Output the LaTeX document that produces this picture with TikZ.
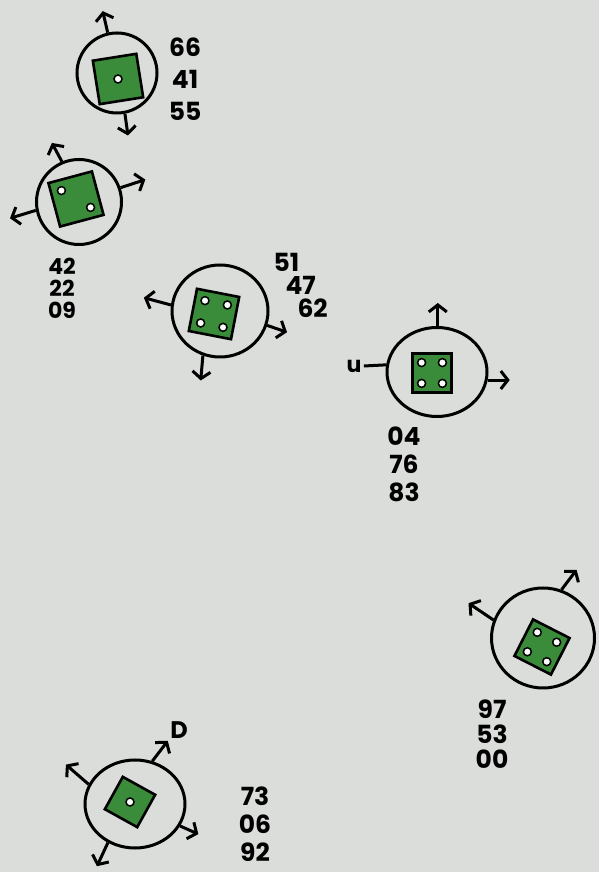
\documentclass[tikz,border=0pt]{standalone}
\usepackage{fontspec}
\setmainfont{Poppins}
\usetikzlibrary{shapes.geometric,arrows.meta,calc}
\definecolor{paper}{RGB}{219,221,219}
\definecolor{felt}{RGB}{58,140,58}

\begin{document}
\begin{tikzpicture}[x=1pt,y=1pt,line width=3pt,
    ring/.style={shape=ellipse,draw,inner sep=0pt},
    die/.style={shape=rectangle,draw,fill=felt,line width=2.6pt,minimum size=#1,inner sep=0pt},
    pip/.style={shape=circle,draw,fill=white,line width=1.5pt,minimum size=8pt,inner sep=0pt},
    arr/.style={-{Straight Barb[length=7pt,width=18pt]}},
    tally/.style={font=\bfseries\fontsize{25}{#1}\selectfont,align=center,inner sep=0pt}]
  \fill[paper] (0,0) rectangle (599,872);
  \useasboundingbox (0,0) rectangle (599,872);
  \node[ring,minimum width=80pt,minimum height=80pt] (c1) at (117,799) {};
  \node[die=44pt,rotate=9] (s1) at (118,793) {};
  \node[pip] (p1) at (s1.center) {};
  \draw[arr] (c1.103) -- +(103:22);
  \draw[arr] (c1.-79) -- +(-82:22);
  \node[tally=32pt] (n1) at (185,793) {66\\41\\55};
  \node[ring,minimum width=85pt,minimum height=85pt] (c2) at (79,670) {};
  \node[die=45pt,rotate=15] (s2) at (76,673) {};
  \foreach \k [count=\i] in {north west,south east}
    \node[pip] (p2\i) at ($(s2.center)!0.5!(s2.\k)$) {};
  \draw[arr] (c2.113) -- +(118:21);
  \draw[arr] (c2.19) -- +(18:26);
  \draw[arr] (c2.191) -- +(197:27);
  \node[tally=22pt,font=\bfseries\fontsize{22}{22}\selectfont] (n2) at (62,584) {42\\22\\09};
  \node[ring,minimum width=96pt,minimum height=92pt] (c3) at (220,561) {};
  \node[die=43pt,rotate=-11] (s3) at (214,558) {};
  \foreach \k [count=\i] in {north west,north east,south west,south east}
    \node[pip] (p3\i) at ($(s3.center)!0.5!(s3.\k)$) {};
  \draw[arr] (c3.173) -- +(165:28);
  \draw[arr] (c3.-17) -- +(-19:21);
  \draw[arr] (c3.249) -- +(-95:25);
  \node[tally=23pt,align=left,anchor=west] (n3) at (272,587) {51\\\hspace{12pt}47\\\hspace{24pt}62};
  \node[ring,minimum width=100pt,minimum height=89pt] (c4) at (437,500) {};
  \node[die=39pt] (s4) at (432,499) {};
  \foreach \k [count=\i] in {north west,north east,south west,south east}
    \node[pip] (p4\i) at ($(s4.center)!0.5!(s4.\k)$) {};
  \draw[arr] (c4.89) -- +(90:23);
  \draw[arr] (c4.-9) -- +(0:22);
  \node[font=\bfseries\fontsize{22}{22}\selectfont,inner sep=1pt] (u) at (354,506) {u};
  \draw (u.east) -- (c4.172);
  \node[tally=28pt] (n4) at (404,408) {04\\76\\83};
  \node[ring,minimum width=103pt,minimum height=100pt] (c5) at (543,234) {};
  \node[die=41pt,rotate=-27] (s5) at (542,225) {};
  \foreach \k [count=\i] in {north west,north east,south west,south east}
    \node[pip] (p5\i) at ($(s5.center)!0.5!(s5.\k)$) {};
  \draw[arr] (c5.69) -- +(53:25);
  \draw[arr] (c5.160) -- +(146:30);
  \node[tally=25pt] (n5) at (492,138) {97\\53\\00};
  \node[ring,minimum width=100pt,minimum height=88pt] (c6) at (135,68) {};
  \node[die=37pt,rotate=-29] (s6) at (130,70) {};
  \node[pip] (p6) at (s6.center) {};
  \node[font=\bfseries\fontsize{24}{24}\selectfont,inner sep=1pt] (d) at (179,142) {D};
  \draw[arr] (c6.68) -- (d.south west);
  \draw[arr] (c6.157) -- +(139:30);
  \draw[arr] (c6.-26) -- +(-24:20);
  \draw[arr] (c6.235) -- +(245:26);
  \node[tally=28pt] (n6) at (255,48) {73\\06\\92};
\end{tikzpicture}
\end{document}
